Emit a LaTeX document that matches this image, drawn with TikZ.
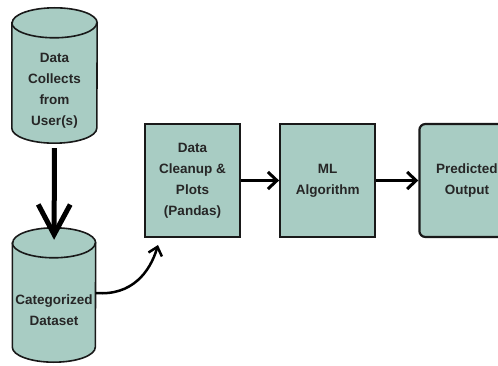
\documentclass[tikz,border=0pt]{standalone}
\usepackage{fontspec}
\setsansfont{Liberation Sans}
\usepackage{tikz}
\usetikzlibrary{positioning, arrows.meta, backgrounds}
\definecolor{tealfill}{RGB}{168,204,195}
\definecolor{inkline}{RGB}{25,25,25}

\begin{document}
\begin{tikzpicture}[
  x=1pt, y=-1pt,
  node distance=38pt,
  font=\sffamily\bfseries\fontsize{13.5}{21}\selectfont,
  dbbody/.style={inner sep=0pt, align=center, text=black!85},
  dbline/.style={draw=inkline, line width=1.6pt, fill=tealfill},
  stagebox/.style={draw=inkline, line width=2.2pt, fill=tealfill, minimum width=95pt, minimum height=113pt, align=center, text=black!85},
  outbox/.style={stagebox, rounded corners=6pt},
  bigarrow/.style={draw=black, line width=5pt, -{Straight Barb[length=30pt,width=32pt]}},
  arrow/.style={draw=black, line width=3pt, -{Straight Barb[length=9pt,width=17pt]}},
]
  \useasboundingbox (0,0) rectangle (498,366);

  % Data sources (body of each cylinder, below the top cap)
  \node (collect) [dbbody, minimum width=85pt, minimum height=105pt] at (54.5,90.5) {Data\\Collects\\from\\User(s)};
  \node (category) [dbbody, minimum width=83pt, minimum height=104pt] at (54,310) {Categorized\\Dataset};

  % cylinder outlines
  \begin{scope}[on background layer]
    \foreach \n/\r in {collect/42.5, category/41.5} {
      \path [dbline] ([yshift=15pt]\n.north west) -- ([yshift=15pt]\n.south west)
        arc [start angle=180, end angle=360, x radius=\r pt, y radius=15pt]
        -- ([yshift=15pt]\n.north east)
        arc [start angle=0, end angle=180, x radius=\r pt, y radius=15pt] -- cycle;
      \draw [draw=inkline, line width=1.6pt] ([yshift=15pt]\n.north west)
        arc [start angle=180, end angle=360, x radius=\r pt, y radius=15pt];
    }
  \end{scope}

  % Processing stages
  \node (cleanup) [stagebox] at (192.5,180.5) {Data\\Cleanup \&\\Plots\\(Pandas)};
  \node (algo) [stagebox, right=of cleanup] {ML\\Algorithm};
  \node (predict) [outbox, right=42pt of algo] {Predicted\\Output};

  \coordinate (bend) at (158,245);

  % Connections
  \draw [bigarrow, shorten <=5pt, shorten >=18pt] (collect.south) -- (category.north);
  \draw [arrow, line width=2.5pt, -{Straight Barb[length=8pt,width=14pt]}] ([yshift=17pt]category.east) .. controls (132,296) and (150,272) .. (bend);
  \draw [arrow] (cleanup) -- (algo);
  \draw [arrow] (algo) -- (predict);

\end{tikzpicture}
\end{document}
